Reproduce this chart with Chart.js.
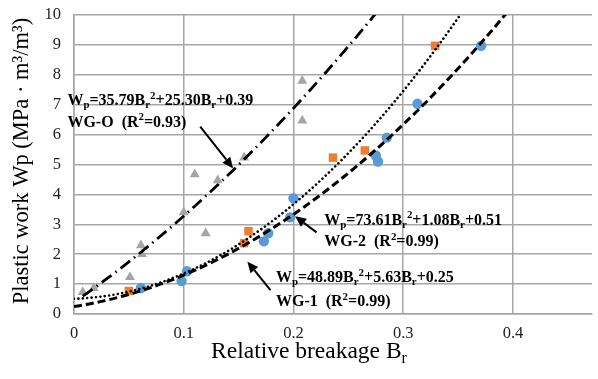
<!DOCTYPE html>
<html><head><meta charset="utf-8">
<script src="https://cdn.jsdelivr.net/npm/chart.js@4/dist/chart.umd.min.js"></script>
<style>html,body{margin:0;padding:0;background:#fff}#wrap{width:598px;height:379px;position:relative}</style>
</head><body><div id="wrap"><canvas id="c"></canvas></div>
<script>
// ---- data ----
const xTicks = [0, 0.1, 0.2, 0.3, 0.4];
const yTicks = [0, 1, 2, 3, 4, 5, 6, 7, 8, 9, 10];

const wg1X = [0.061, 0.098, 0.103, 0.173, 0.177, 0.197, 0.200, 0.275, 0.277, 0.285, 0.313, 0.371];
const wg1Y = [0.87, 1.10, 1.43, 2.43, 2.70, 3.23, 3.87, 5.30, 5.10, 5.90, 7.03, 8.97];

const wg2X = [0.050, 0.155, 0.159, 0.236, 0.265, 0.329];
const wg2Y = [0.77, 2.37, 2.77, 5.23, 5.47, 8.97];

const wgoX = [0.008, 0.018, 0.051, 0.061, 0.062, 0.100, 0.110, 0.120, 0.131, 0.155, 0.208, 0.208];
const wgoY = [0.73, 0.87, 1.23, 2.30, 2.00, 3.40, 4.67, 2.70, 4.47, 5.23, 6.47, 7.80];

// fitted trendline coefficients printed on the chart (a*Br^2 + b*Br + c)
const fitWG1 = [48.89, 5.63, 0.25];
const fitWG2 = [73.61, 1.08, 0.51];
const fitWGO = [35.79, 25.30, 0.39];
const fitRangeWG1 = [0, 0.40];
const fitRangeWG2 = [0, 0.36];
const fitRangeWGO = [0.008, 0.28];

const labelWG1 = ["W_p=48.89B_r^2+5.63B_r+0.25", "WG-1  (R^2=0.99)"];
const labelWG2 = ["W_p=73.61B_r^2+1.08B_r+0.51", "WG-2  (R^2=0.99)"];
const labelWGO = ["W_p=35.79B_r^2+25.30B_r+0.39", "WG-O  (R^2=0.93)"];

const xTitle = "Relative breakage B_r";
const yTitle = "Plastic work Wp (MPa · m³/m³)";

// ---- build ----
function pts(xs, ys){ return xs.map((x,i)=>({x:x, y:ys[i]})); }
function fitCurve(c, r){
  const out=[]; const n=80;
  for(let i=0;i<=n;i++){ const x=r[0]+(r[1]-r[0])*i/n; out.push({x:x, y:c[0]*x*x+c[1]*x+c[2]}); }
  return out;
}

const SERIF = '"Liberation Serif","Times New Roman",serif';

function drawRich(ctx, x, y, str, size, bold, dry){
  const w = bold ? 'bold ' : '';
  let cx = x;
  for(let i=0;i<str.length;i++){
    let ch = str[i], mode = 0;
    if((ch==='_'||ch==='^') && i+1<str.length){ mode = ch==='_'?1:2; i++; ch=str[i]; }
    const fs = mode ? size*0.68 : size;
    ctx.font = w + fs + 'px ' + SERIF;
    const dy = mode===1 ? size*0.28 : (mode===2 ? -size*0.32 : 0);
    if(!dry) ctx.fillText(ch, cx, y+dy);
    cx += ctx.measureText(ch).width;
  }
  return cx - x;
}

function arrow(ctx, x1, y1, x2, y2){
  const ang = Math.atan2(y2-y1, x2-x1), L=11, W=5;
  const bx = x2 - L*Math.cos(ang), by = y2 - L*Math.sin(ang);
  ctx.beginPath(); ctx.moveTo(x1,y1); ctx.lineTo(bx,by);
  ctx.lineWidth=2; ctx.strokeStyle='#000'; ctx.stroke();
  ctx.beginPath(); ctx.moveTo(x2,y2);
  ctx.lineTo(bx + W*Math.sin(ang), by - W*Math.cos(ang));
  ctx.lineTo(bx - W*Math.sin(ang), by + W*Math.cos(ang));
  ctx.closePath(); ctx.fillStyle='#000'; ctx.fill();
}

// annotation placement (data coordinates)
const notes = [
  {lines: labelWGO, x: -0.006, y1: 7.13, y2: 6.40, arrow: [0.115, 6.27, 0.145, 4.87]},
  {lines: labelWG2, x: 0.228, y1: 3.13, y2: 2.40, arrow: [0.221, 2.73, 0.2015, 3.27]},
  {lines: labelWG1, x: 0.184, y1: 1.20, y2: 0.40, arrow: [0.179, 0.80, 0.158, 1.75]}
];

const overlay = {
  id: 'overlay',
  afterDraw(chart){
    const ctx = chart.ctx, xs = chart.scales.x, ys = chart.scales.y;
    ctx.save();
    ctx.fillStyle = '#000'; ctx.textBaseline = 'middle'; ctx.textAlign = 'left';
    notes.forEach(n=>{
      const px = xs.getPixelForValue(n.x);
      drawRich(ctx, px, ys.getPixelForValue(n.y1), n.lines[0], 16, true);
      drawRich(ctx, px, ys.getPixelForValue(n.y2), n.lines[1], 16, true);
      const r = n.arrow;
      arrow(ctx, xs.getPixelForValue(r[0]), ys.getPixelForValue(r[1]), xs.getPixelForValue(r[2]), ys.getPixelForValue(r[3]));
    });
    // x title
    ctx.fillStyle = '#000';
    const wTot = drawRich(ctx, 0, 0, xTitle, 23.5, false, true);
    drawRich(ctx, 309 - wTot/2, 352, xTitle, 23.5, false);
    // y title
    ctx.save();
    ctx.translate(22, 161);
    ctx.rotate(-Math.PI/2);
    ctx.textAlign = 'center';
    ctx.font = '22.5px ' + SERIF;
    ctx.fillText(yTitle, 0, 0);
    ctx.restore();
    ctx.restore();
  }
};

const gridColor = '#a6a6a6';

new Chart(document.getElementById('c'), {
  type: 'scatter',
  data: {
    datasets: [
      {label:'WG-1 fit', data: fitCurve(fitWG1, fitRangeWG1), showLine:true, pointRadius:0, borderColor:'#000', borderWidth:3, borderDash:[8,4], order:0, fill:false},
      {label:'WG-2 fit', data: fitCurve(fitWG2, fitRangeWG2), showLine:true, pointRadius:0, borderColor:'#000', borderWidth:2.6, borderDash:[0.01,4.4], borderCapStyle:'round', order:0, fill:false},
      {label:'WG-O fit', data: fitCurve(fitWGO, fitRangeWGO), showLine:true, pointRadius:0, borderColor:'#000', borderWidth:2.8, borderDash:[12,5,1.5,5], order:0, fill:false},
      {label:'WG-1', data: pts(wg1X, wg1Y), pointStyle:'circle', pointRadius:5.2, backgroundColor:'#5B9BD5', borderColor:'#5B9BD5', borderWidth:0, order:1},
      {label:'WG-2', data: pts(wg2X, wg2Y), pointStyle:'rect', pointRadius:6, backgroundColor:'#ED7D31', borderColor:'#ED7D31', borderWidth:0, order:1},
      {label:'WG-O', data: pts(wgoX, wgoY), pointStyle:'triangle', pointRadius:5.8, backgroundColor:'#A5A5A5', borderColor:'#A5A5A5', borderWidth:0, order:1}
    ]
  },
  options: {
    responsive: true, maintainAspectRatio: false, animation: false,
    layout: {padding: {top: 15, right: 0, left: 0, bottom: 0}},
    plugins: {legend: {display: false}, tooltip: {enabled: false}},
    scales: {
      x: {
        type: 'linear', min: 0, max: 0.472,
        afterBuildTicks: s => { s.ticks = xTicks.map(v => ({value: v})); },
        afterFit: s => { s.height = 65; s.paddingLeft = 0; s.paddingRight = 0; },
        grid: {color: gridColor, lineWidth: 1.5, drawTicks: false},
        border: {display: true, color: gridColor, width: 1.5},
        ticks: {padding: 10, color: '#222', font: {family: SERIF, size: 16.5}, callback: v => String(v)}
      },
      y: {
        type: 'linear', min: 0, max: 10,
        afterBuildTicks: s => { s.ticks = yTicks.map(v => ({value: v})); },
        afterFit: s => { s.width = 74; s.paddingTop = 0; s.paddingBottom = 0; },
        grid: {color: gridColor, lineWidth: 1.5, drawTicks: false},
        border: {display: true, color: gridColor, width: 1.5},
        ticks: {padding: 13, color: '#222', font: {family: SERIF, size: 16.5}}
      }
    }
  },
  plugins: [overlay]
});
</script>
</body></html>
